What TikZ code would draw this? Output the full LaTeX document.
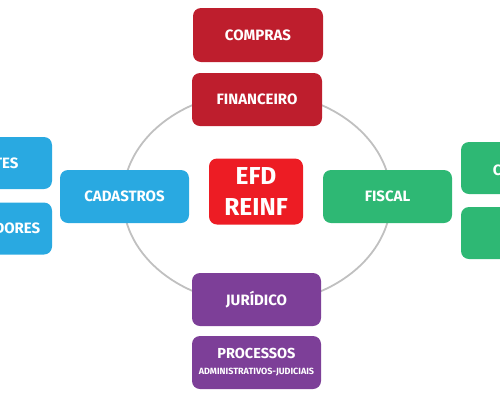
\documentclass[tikz,border=0pt]{standalone}
\usepackage{fontspec}
\setmainfont{Fira Sans}
\definecolor{cblue}{HTML}{29A9E1}
\definecolor{cgreen}{HTML}{2EB874}
\definecolor{cdred}{HTML}{BE1E2D}
\definecolor{cred}{HTML}{ED1C24}
\definecolor{cpurple}{HTML}{7D3F98}
\definecolor{cring}{HTML}{C0C0C0}
\tikzset{
  box/.style={rounded corners=8pt, minimum width=129pt, minimum height=53pt,
    text=white, font=\bfseries\fontsize{15}{17}\selectfont, align=center, inner sep=0pt},
  ring/.style={draw=cring, line width=1.8pt}
}
\begin{document}
\begin{tikzpicture}[x=1pt,y=-1pt]
\useasboundingbox (0,0) rectangle (500,400);
\clip (0,0) rectangle (500,400);
\draw[ring] (257,198) ellipse [x radius=134, y radius=106];
\node[box, fill=cdred, minimum width=130pt, minimum height=54pt] (compras) at (258,35) {COMPRAS};
\node[box, fill=cdred, minimum width=130pt] (fin) at (257,99.5) {FINANCEIRO};
\node[box, fill=cblue] (cad) at (124.5,196.5) {CADASTROS};
\node[box, fill=cgreen] (fis) at (387.5,196.5) {FISCAL};
\node[box, fill=cred, minimum width=94pt, minimum height=66pt, font=\bfseries\fontsize{24.5}{31}\selectfont] (efd) at (256,191.5) {EFD\\REINF};
\node[box, fill=cpurple] (jur) at (256.5,299.5) {JURÍDICO};
\node[box, fill=cpurple, align=center] (proc) at (256.5,362.5) {{\fontsize{14.5}{15}\selectfont PROCESSOS}\\[-1pt]{\fontsize{9}{10}\selectfont ADMINISTRATIVOS-JUDICIAIS}};
\node[box, fill=cblue, minimum width=130pt, minimum height=52pt] (cli) at (-13,163) {CLIENTES};
\node[box, fill=cblue, minimum width=130pt, minimum height=52pt] (forn) at (-13,228.5) {FORNECEDORES};
\node[box, fill=cgreen, minimum width=130pt, minimum height=52pt] (cont) at (526,168) {CONTÁBIL};
\node[box, fill=cgreen, minimum width=130pt, minimum height=52pt] (nfs) at (526,233) {NFS-e};
\end{tikzpicture}
\end{document}
